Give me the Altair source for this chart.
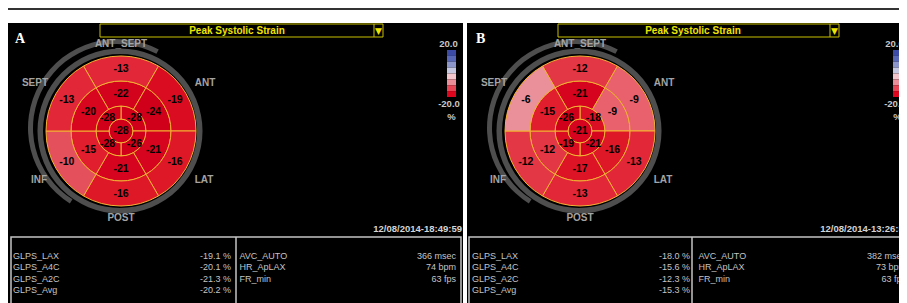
import math
import altair as alt
import pandas as pd

# ---------------- data ----------------
PANELS = ["A", "B"]
TITLE = "Peak Systolic Strain"
WALL_LABELS = ["ANT_SEPT", "ANT", "LAT", "POST", "INF", "SEPT"]

# segment values (apical quadrants: UR, LR, LL, UL; rings: ANT_SEPT, ANT, LAT, POST, INF, SEPT)
APEX = {"A": [-28], "B": [-21]}
APICAL = {"A": [-28, -26, -28, -28], "B": [-18, -21, -19, -26]}
MID = {"A": [-22, -24, -21, -21, -15, -20], "B": [-21, -9, -16, -17, -12, -15]}
BASAL = {"A": [-13, -19, -16, -16, -10, -13], "B": [-12, -9, -13, -13, -12, -6]}

GLPS_NAMES = ["GLPS_LAX", "GLPS_A4C", "GLPS_A2C", "GLPS_Avg"]
GLPS = {"A": [-19.1, -20.1, -21.3, -20.2], "B": [-18.0, -15.6, -12.3, -15.3]}
INFO_NAMES = ["AVC_AUTO", "HR_ApLAX", "FR_min"]
INFO = {"A": ["366 msec", "74 bpm", "63 fps"], "B": ["382 msec", "73 bpm", "63 fps"]}
TIMESTAMPS = {"A": "12/08/2014-18:49:59", "B": "12/08/2014-13:26:57"}
SCALE_TEXT = ["20.0", "-20.0", "%"]
SCALE_STEPS = [20, 15, 10, 5, -5, -10, -15, -20]

# ---------------- layout / style ----------------
FONT = "Liberation Sans"
W, H = 891, 295
DX = {"A": 0, "B": 459}        # offset of left-side items
DX_TS = {"A": 0, "B": 447}     # timestamp (kept inside the visible area)
DX_CB = {"A": 0, "B": 446}     # colour bar
DX_RV = {"A": 0, "B": 450}     # right column values
CX, CY = 121, 131
R_APEX, R_APICAL, R_MID, R_OUT = 12, 25, 50, 75

SEG_DOMAIN = [-24, -20, -16, -13, -10, -6]
SEG_RANGE = ["#d0001b", "#d8061f", "#df1828", "#e22838", "#e5505d", "#ea909b"]
BAR_COLORS = ["#3c4ca6", "#5868b6", "#8c96ca", "#c6c8e2", "#f2c6cc", "#ea8f9a", "#e64656", "#de061e"]
GRID = "#f2b233"

XS = alt.Scale(domain=[8, 8 + W], nice=False, zero=False)
YS = alt.Scale(domain=[8 + H, 8], nice=False, zero=False)
TS = alt.Scale(domain=[0, 360], range=[0, 2 * math.pi])
RS = alt.Scale(type="linear", domain=[0, 100], range=[0, 100])


def X(f="x"):
    return alt.X(f"{f}:Q", scale=XS, axis=None)


def Y(f="y"):
    return alt.Y(f"{f}:Q", scale=YS, axis=None)


def texts(rows, size, color, align="center", weight="normal", font=FONT, baseline="middle"):
    return alt.Chart(pd.DataFrame(rows)).mark_text(
        size=size, color=color, align=align, baseline=baseline, fontWeight=weight, font=font
    ).encode(x=X(), y=Y(), text="t:N")


def rects(rows, **kw):
    return alt.Chart(pd.DataFrame(rows)).mark_rect(**kw).encode(
        x=X(), x2=alt.X2("x2:Q"), y=Y(), y2=alt.Y2("y2:Q"))


def rules(rows, **kw):
    return alt.Chart(pd.DataFrame(rows)).mark_rule(**kw).encode(
        x=X(), x2=alt.X2("x2:Q"), y=Y(), y2=alt.Y2("y2:Q"))


def arcs(rows, color_enc=None, **kw):
    enc = dict(
        x=X("cx"), y=Y("cy"),
        theta=alt.Theta("t0:Q", scale=TS, stack=None), theta2=alt.Theta2("t1:Q"),
        radius=alt.Radius("r1:Q", scale=RS), radius2=alt.Radius2("r0:Q"),
    )
    if color_enc is not None:
        enc["color"] = color_enc
    return alt.Chart(pd.DataFrame(rows)).mark_arc(**kw).encode(**enc)


layers = []

# panel backgrounds
layers.append(rects([dict(x=8, x2=463, y=23, y2=303), dict(x=467, x2=907, y=23, y2=303)], color="black"))
# top rule
layers.append(rules([dict(x=8, x2=907, y=9, y2=9)], color="#333333", strokeWidth=2))

# gray rings
ring_rows = []
for p in PANELS:
    d = DX[p]
    ring_rows.append(dict(cx=CX - 1 + d, cy=CY, t0=0, t1=360, r0=77, r1=82.5))
    ring_rows.append(dict(cx=CX - 4 + d, cy=CY - 3, t0=212, t1=388, r0=84, r1=89))
layers.append(arcs(ring_rows, color="#4e4e4e"))

# bull's-eye segments
seg_rows = []
for p in PANELS:
    cx, cy = CX + DX[p], CY

    def add(v, t0, t1, r0, r1, a, rl):
        seg_rows.append(dict(cx=cx, cy=cy, t0=t0, t1=t1, r0=r0, r1=r1, v=v, t=str(v),
                             x=cx + rl * math.sin(math.radians(a)),
                             y=cy - rl * math.cos(math.radians(a))))

    add(APEX[p][0], 0, 360, 0, R_APEX, 0, 0)
    for k, v in enumerate(APICAL[p]):
        add(v, 90 * k, 90 * k + 90, R_APEX, R_APICAL, 90 * k + 45, 19)
    for k, v in enumerate(MID[p]):
        add(v, 330 + 60 * k, 390 + 60 * k, R_APICAL, R_MID, 60 * k, 37.5)
    for k, v in enumerate(BASAL[p]):
        add(v, 330 + 60 * k, 390 + 60 * k, R_MID, R_OUT, 60 * k, 62.5)

seg_color = alt.Color("v:Q", scale=alt.Scale(domain=SEG_DOMAIN, range=SEG_RANGE, clamp=True), legend=None)
layers.append(arcs(seg_rows, seg_color, stroke=GRID, strokeWidth=1))
layers.append(texts(seg_rows, 10.5, "black", weight="bold"))

# wall labels
LABEL_POS = [(121, 44), (205, 83), (204, 180), (121, 218), (39, 180), (35, 83)]
wl = []
for p in PANELS:
    for name, (lx, ly) in zip(WALL_LABELS, LABEL_POS):
        wl.append(dict(x=lx + DX[p], y=ly, t=name))
layers.append(texts(wl, 10, "#a4a4a4", weight="bold"))

# title boxes
layers.append(rects([dict(x=100, x2=383, y=24, y2=37), dict(x=558, x2=839, y=24, y2=37)],
                    fill="black", stroke="#c8c000", strokeWidth=1))
layers.append(rules([dict(x=374, x2=374, y=24, y2=37), dict(x=830, x2=830, y=24, y2=37)],
                    color="#c8c000", strokeWidth=1))
layers.append(texts([dict(x=237, y=31, t=TITLE), dict(x=693, y=31, t=TITLE)], 10, "#ece400", weight="bold"))
layers.append(texts([dict(x=378.5, y=31, t="▼"), dict(x=834.5, y=31, t="▼")], 9, "#ece400",
                    font="DejaVu Sans"))

# panel letters
layers.append(texts([dict(x=15, y=39, t="A"), dict(x=476, y=39, t="B")], 14, "white",
                    align="left", weight="bold", font="Liberation Serif"))

# colour bars
cb = []
step = (97 - 50) / len(SCALE_STEPS)
for p in PANELS:
    for i, s in enumerate(SCALE_STEPS):
        cb.append(dict(x=447 + DX_CB[p], x2=456 + DX_CB[p], y=50 + i * step, y2=50 + (i + 1) * step, s=s))
layers.append(alt.Chart(pd.DataFrame(cb)).mark_rect().encode(
    x=X(), x2=alt.X2("x2:Q"), y=Y(), y2=alt.Y2("y2:Q"),
    fill=alt.Fill("s:O", scale=alt.Scale(domain=SCALE_STEPS, range=BAR_COLORS), legend=None)))
cbl = []
for p in PANELS:
    for t, (lx, ly) in zip(SCALE_TEXT, [(448.5, 44), (449, 104), (451.5, 117)]):
        cbl.append(dict(x=lx + DX_CB[p], y=ly, t=t))
layers.append(texts(cbl, 9.5, "#c8c8c8", weight="bold"))

# timestamps
layers.append(texts([dict(x=462 + DX_TS[p], y=229, t=TIMESTAMPS[p]) for p in PANELS], 9.5, "#d4d4d4",
                    align="right", weight="bold"))

# lower info boxes
layers.append(rects([dict(x=11, x2=461, y=237, y2=312), dict(x=469, x2=920, y=237, y2=312)],
                    fill="black", stroke="#c4c4c4", strokeWidth=1.5))
layers.append(rules([dict(x=236, x2=236, y=237, y2=312), dict(x=692, x2=692, y=237, y2=312)],
                    color="#c4c4c4", strokeWidth=1.5))

ll, lv, rl, rv = [], [], [], []
for p in PANELS:
    for i, (n, v) in enumerate(zip(GLPS_NAMES, GLPS[p])):
        y = 256 + 11.3 * i
        ll.append(dict(x=13 + DX[p], y=y, t=n))
        lv.append(dict(x=231 + DX[p], y=y, t=f"{v:.1f} %"))
    for i, (n, v) in enumerate(zip(INFO_NAMES, INFO[p])):
        y = 256 + 11.3 * i
        rl.append(dict(x=239.5 + DX[p], y=y, t=n))
        rv.append(dict(x=456 + DX_RV[p], y=y, t=v))
layers.append(texts(ll, 9, "#c4c4c4", align="left"))
layers.append(texts(lv, 9, "#c4c4c4", align="right"))
layers.append(texts(rl, 9, "#c4c4c4", align="left"))
layers.append(texts(rv, 9, "#c4c4c4", align="right"))

chart = alt.layer(*layers).properties(
    width=W, height=H, background="white", padding=0,
    autosize=alt.AutoSizeParams(type="none"),
).resolve_scale(color="independent", fill="independent").configure_view(strokeWidth=0)

chart.save("out.html", embed_options={"renderer": "svg", "actions": False})
